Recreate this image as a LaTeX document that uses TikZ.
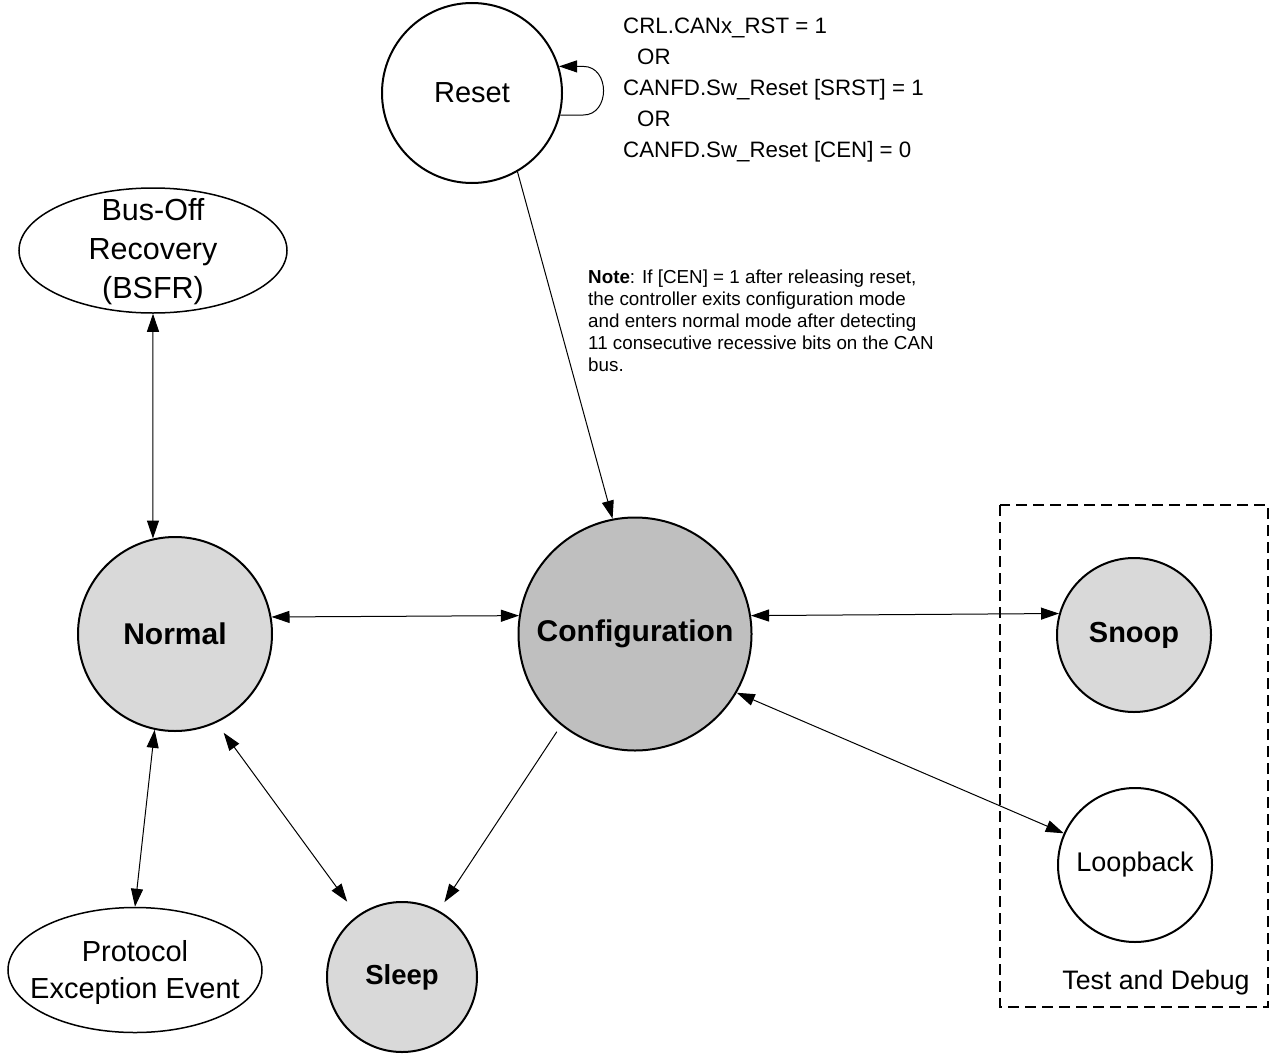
\documentclass[tikz,border=0pt]{standalone}
\usepackage{fontspec}
\setmainfont{Liberation Sans}
\usetikzlibrary{shapes.geometric,arrows.meta}
\definecolor{lightgray}{HTML}{D9D9D9}
\definecolor{midgray}{HTML}{BFBFBF}
\begin{document}
\begin{tikzpicture}[x=1pt,y=-1pt,
  state/.style={circle,draw=black,line width=2pt,inner sep=0pt,align=center},
  oval/.style={ellipse,draw=black,line width=1.5pt,inner sep=0pt},
  bld/.style={font=\fontsize{30}{34}\selectfont\bfseries},
  conn/.style={line width=1pt,-{Triangle[length=18pt,width=12pt]}},
  dconn/.style={line width=1pt,{Triangle[length=18pt,width=12pt]}-{Triangle[length=18pt,width=12pt]}},
  txt/.style={inner sep=0pt,align=left,anchor=north west}
]
\useasboundingbox (0,0) rectangle (1274,1057);

% nodes
\node[state,fill=white,minimum size=180pt,font=\fontsize{29}{34}\selectfont] (reset) at (472,93) {Reset};
\node[oval,minimum width=268pt,minimum height=125pt] (busoff) at (153,250.5) {};
\node[align=center,inner sep=0pt,font=\fontsize{30.5}{39}\selectfont] (busofftext) at (153,252) {Bus-Off\\Recovery\\(BSFR)};
\node[state,fill=lightgray,minimum size=194pt,bld] (normal) at (175,634) {Normal};
\node[state,fill=midgray,minimum size=233pt,bld] (config) at (635,634) {Configuration};
\node[state,fill=lightgray,minimum size=154pt,font=\fontsize{29}{34}\selectfont\bfseries] (snoop) at (1134,635) {Snoop};
\node[state,fill=white,minimum size=154pt,font=\fontsize{27}{30}\selectfont] (loop) at (1135,865) {Loopback};
\node[oval,minimum width=254pt,minimum height=125pt] (proto) at (135,970) {};
\node[align=center,inner sep=0pt,font=\fontsize{29}{37}\selectfont] (prototext) at (135,972) {Protocol\\Exception Event};
\node[state,fill=lightgray,minimum size=150pt,font=\fontsize{27.5}{30}\selectfont\bfseries] (sleep) at (402,977) {Sleep};

% test and debug box
\draw[line width=2pt,dash pattern=on 11pt off 6pt] (1000,505) rectangle (1268,1007);
\node[font=\fontsize{26.7}{30}\selectfont,inner sep=0pt] (tdlabel) at (1156,983) {Test and Debug};

% texts
\node[txt,font=\fontsize{22.3}{31}\selectfont] (cond) at (623,18) {CRL.CANx\_RST = 1\\\hspace*{14pt}OR\\CANFD.Sw\_Reset [SRST] = 1\\\hspace*{14pt}OR\\CANFD.Sw\_Reset [CEN] = 0};
\node[txt,font=\fontsize{18.8}{22}\selectfont] (note) at (588,270) {\textbf{Note}: If [CEN] = 1 after releasing reset,\\the controller exits configuration mode\\and enters normal mode after detecting\\11 consecutive recessive bits on the CAN\\bus.};

% connectors
\draw[conn] (reset.-14) -- ++(23,0) .. controls +(27,0) and +(27,0) .. ([xshift=23pt]reset.17 -| reset.-14) -- (reset.17);
\draw[conn] (reset.-60) -- (config.101.6);
\draw[dconn] (busoff.south) -- (normal.103.1);
\draw[dconn] (normal.10.1) -- (config.171.65);
\draw[dconn] (config.9.35) -- (snoop.164.95);
\draw[dconn] (config.-30.3) -- (loop.156.3);
\draw[conn,shorten <=7.7pt,shorten >=10.1pt] (config.231.5) -- (sleep.61);
\draw[dconn,shorten <=12.3pt,shorten >=17.2pt] (normal.-65.1) -- (sleep.126.8);
\draw[dconn] (normal.-102.5) -- (proto.north);
\end{tikzpicture}
\end{document}
